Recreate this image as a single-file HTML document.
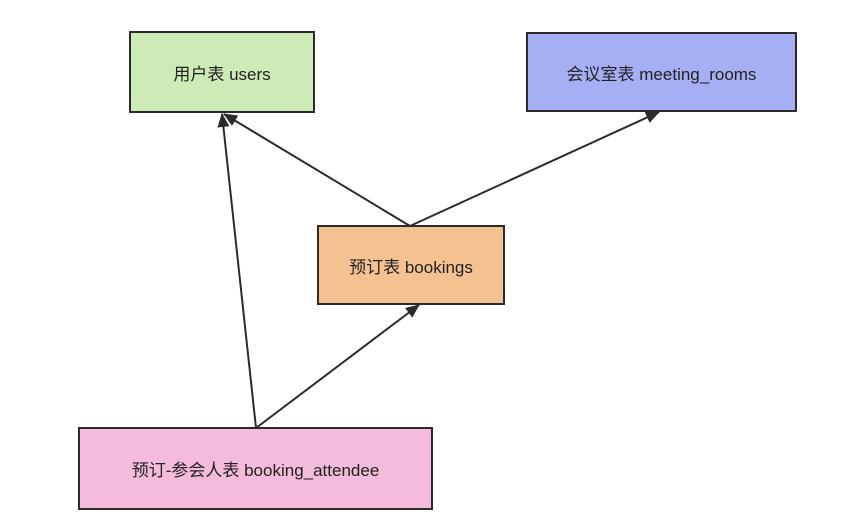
<!DOCTYPE html>
<html><head><meta charset="utf-8"><style>
body{margin:0;width:866px;height:517px;background:#fff;position:relative;overflow:hidden;font-family:"Liberation Sans","Noto Sans CJK SC",sans-serif;}
.b{position:absolute;box-sizing:border-box;border:2px solid #2b2b2b;display:flex;align-items:center;justify-content:center;font-size:17px;color:#222;}
</style></head><body>
<svg width="866" height="517" style="position:absolute;left:0;top:0">
<defs><marker id="a" markerWidth="14" markerHeight="12" refX="13" refY="6" orient="auto" markerUnits="userSpaceOnUse"><path d="M0,0 L14,6 L0,12 Z" fill="#2b2b2b"/></marker></defs>
<g stroke="#2b2b2b" stroke-width="2" fill="none">
<line x1="410" y1="226" x2="224" y2="114" marker-end="url(#a)"/>
<line x1="410" y1="226" x2="659" y2="112" marker-end="url(#a)"/>
<line x1="256" y1="428" x2="222" y2="114" marker-end="url(#a)"/>
<line x1="256" y1="428" x2="419" y2="305" marker-end="url(#a)"/>
</g></svg>
<div class="b" style="left:129px;top:31px;width:186px;height:82px;background:#cdebb6">用户表 users</div>
<div class="b" style="left:526px;top:32px;width:271px;height:80px;background:#a6aef4">会议室表 meeting_rooms</div>
<div class="b" style="left:317px;top:225px;width:188px;height:80px;background:#f4c290">预订表 bookings</div>
<div class="b" style="left:78px;top:427px;width:355px;height:83px;background:#f4bbdc">预订-参会人表 booking_attendee</div>
</body></html>
